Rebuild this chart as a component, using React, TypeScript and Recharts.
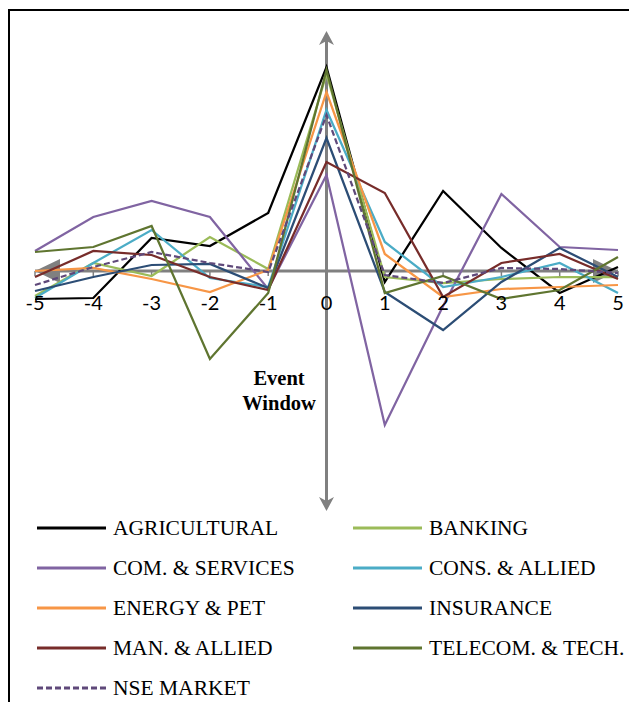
import React from 'react';
import { LineChart, Line, XAxis, YAxis, ReferenceLine, Legend } from 'recharts';

// event window days
const categories = [-5, -4, -3, -2, -1, 0, 1, 2, 3, 4, 5];

// abnormal returns per sector
const agricultural = [-0.28, -0.27, 0.33, 0.25, 0.58, 2.04, -0.11, 0.8, 0.23, -0.22, 0.04];
const banking = [-0.25, 0.08, -0.05, 0.34, 0.02, 1.97, -0.06, -0.12, -0.08, -0.06, -0.06];
const comServices = [0.2, 0.54, 0.7, 0.54, -0.18, 0.96, -1.54, -0.35, 0.77, 0.24, 0.21];
const consAllied = [-0.27, 0.08, 0.41, -0.07, -0.16, 1.61, 0.29, -0.16, -0.06, 0.08, -0.22];
const energyPet = [0.0, 0.03, -0.08, -0.21, 0.01, 1.79, 0.17, -0.26, -0.18, -0.16, -0.14];
const insurance = [-0.2, -0.06, 0.06, 0.07, -0.17, 1.33, -0.21, -0.59, -0.11, 0.23, -0.06];
const manAllied = [-0.06, 0.2, 0.16, -0.06, -0.19, 1.09, 0.78, -0.26, 0.08, 0.17, -0.08];
const telecomTech = [0.19, 0.24, 0.45, -0.88, -0.22, 2.01, -0.22, -0.05, -0.28, -0.19, 0.14];
const nseMarket = [-0.14, 0.04, 0.19, 0.08, -0.01, 1.56, -0.04, -0.12, 0.03, 0.02, -0.02];

const series = [
  { key: 'agricultural', name: 'AGRICULTURAL', color: '#000000', values: agricultural },
  { key: 'banking', name: 'BANKING', color: '#9BBB59', values: banking },
  { key: 'comServices', name: 'COM. & SERVICES', color: '#8064A2', values: comServices },
  { key: 'consAllied', name: 'CONS. & ALLIED', color: '#4BACC6', values: consAllied },
  { key: 'energyPet', name: 'ENERGY & PET', color: '#F79646', values: energyPet },
  { key: 'insurance', name: 'INSURANCE', color: '#2C4D75', values: insurance },
  { key: 'manAllied', name: 'MAN. & ALLIED', color: '#772C2A', values: manAllied },
  { key: 'telecomTech', name: 'TELECOM. & TECH.', color: '#5F7530', values: telecomTech },
  { key: 'nseMarket', name: 'NSE MARKET', color: '#5F497A', values: nseMarket, dash: '6 3' },
];

const data = categories.map((t, i) => {
  const row: Record<string, number> = { t };
  series.forEach((s) => {
    row[s.key] = s.values[i];
  });
  return row;
});

const AXIS = '#808080';

const HorizontalAxis = (p: any) => {
  const left = Math.min(p.x1, p.x2);
  const right = Math.max(p.x1, p.x2);
  const y = p.y1;
  return (
    <g>
      <line x1={left} x2={right} y1={y} y2={y} stroke={AXIS} strokeWidth={3} />
      <polygon points={`${left},${y} ${left + 25},${y - 12} ${left + 25},${y + 12}`} fill={AXIS} />
      <polygon points={`${right},${y} ${right - 25},${y - 12} ${right - 25},${y + 12}`} fill={AXIS} />
    </g>
  );
};

const VerticalAxis = (p: any) => {
  const top = Math.min(p.y1, p.y2);
  const bottom = Math.max(p.y1, p.y2);
  const x = p.x1;
  return (
    <g>
      <line x1={x} x2={x} y1={top + 6} y2={bottom - 6} stroke={AXIS} strokeWidth={3} />
      <polygon points={`${x},${top} ${x + 7.5},${top + 14} ${x},${top + 10} ${x - 7.5},${top + 14}`} fill={AXIS} />
      <polygon
        points={`${x},${bottom} ${x + 7.5},${bottom - 14} ${x},${bottom - 10} ${x - 7.5},${bottom - 14}`}
        fill={AXIS}
      />
    </g>
  );
};

const renderLegend = () => (
  <div style={{ position: 'relative', width: 629, height: 194 }}>
    {series.map((s, i) => {
      const col = i % 2;
      const row = Math.floor(i / 2);
      return (
        <div
          key={s.key}
          style={{
            position: 'absolute',
            left: col === 0 ? 29 : 345,
            top: 20 + row * 40 - 13,
            height: 26,
            display: 'flex',
            alignItems: 'center',
            whiteSpace: 'nowrap',
          }}
        >
          <svg width={69} height={6} style={{ marginRight: 7 }}>
            <line x1={0} x2={69} y1={3} y2={3} stroke={s.color} strokeWidth={3} strokeDasharray={s.dash} />
          </svg>
          <span style={{ fontFamily: '"Liberation Serif", serif', fontSize: 21.5, color: '#000' }}>{s.name}</span>
        </div>
      );
    })}
  </div>
);

export default function App() {
  return (
    <div style={{ position: 'relative', width: 629, height: 694, overflow: 'hidden' }}>
      <div
        style={{
          position: 'absolute',
          left: 0,
          top: 1,
          width: 700,
          height: 800,
          border: '2px solid #000',
          boxSizing: 'border-box',
        }}
      />
      <LineChart width={629} height={694} data={data} margin={{ top: 23, right: 19, bottom: 191, left: 27 }}>
        <XAxis dataKey="t" type="category" hide />
        <YAxis type="number" domain={[-2.4, 2.4]} hide />
        <ReferenceLine y={0} shape={HorizontalAxis} />
        <ReferenceLine x={0} shape={VerticalAxis} />
        {categories.map((t) => (
          <ReferenceLine
            key={t}
            segment={[
              { x: t, y: 0 },
              { x: t, y: -0.05 },
            ]}
            stroke={AXIS}
            strokeWidth={1.5}
            label={{
              value: String(t),
              position: 'bottom',
              offset: 20,
              fill: '#000',
              fontSize: 20,
              fontFamily: 'Lato, sans-serif',
            }}
          />
        ))}
        {series.map((s) => (
          <Line
            key={s.key}
            type="linear"
            dataKey={s.key}
            name={s.name}
            stroke={s.color}
            strokeWidth={2.25}
            strokeDasharray={s.dash}
            dot={false}
            activeDot={false}
            isAnimationActive={false}
          />
        ))}
        <Legend
          layout="horizontal"
          verticalAlign="middle"
          align="center"
          content={renderLegend}
          wrapperStyle={{ left: 0, top: 500, width: 629, height: 194 }}
        />
      </LineChart>
      <div
        style={{
          position: 'absolute',
          left: 211,
          top: 358,
          width: 120,
          textAlign: 'center',
          fontFamily: '"Liberation Serif", serif',
          fontWeight: 'bold',
          fontSize: 20.5,
          lineHeight: '25px',
          color: '#000',
        }}
      >
        Event
        <br />
        Window
      </div>
    </div>
  );
}
